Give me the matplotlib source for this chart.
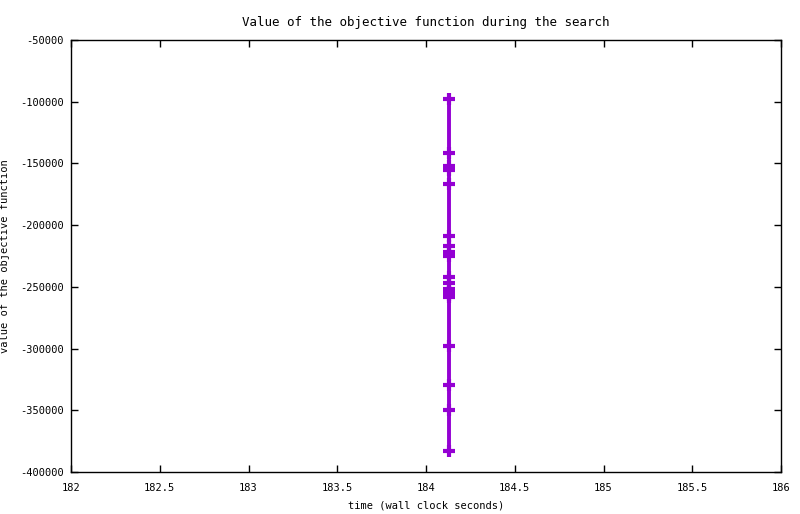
import numpy as np
import matplotlib
matplotlib.use("Agg")
import matplotlib.pyplot as plt

# search progress: wall clock time vs objective value
times = [184.13] * 19
values = [-97600, -141300, -152100, -155300, -166400, -208600, -216700,
          -221800, -225000, -241800, -246600, -251700, -254200, -256600,
          -258600, -297700, -329300, -349500, -382700]

x_ticks = [182, 182.5, 183, 183.5, 184, 184.5, 185, 185.5, 186]
y_ticks = [-50000, -100000, -150000, -200000, -250000, -300000, -350000, -400000]

plt.rcParams["font.family"] = "DejaVu Sans Mono"
plt.rcParams["font.size"] = 7.5

fig = plt.figure(figsize=(8, 5.14), dpi=100)
ax = fig.add_axes([71 / 800, 42 / 514, 710 / 800, 432 / 514])

ax.plot(times, values, color="#9400d3", lw=2.8, marker="+",
        markersize=8, markeredgewidth=3)

ax.set_xlim(182, 186)
ax.set_ylim(-400000, -50000)
ax.set_xticks(x_ticks)
ax.set_xticklabels([("%g" % t) for t in x_ticks])
ax.set_yticks(y_ticks)
ax.set_yticklabels([("%d" % t).replace("\u2212", "-") for t in y_ticks])
ax.tick_params(direction="in", top=True, right=True, length=5, width=1)
ax.tick_params(axis="x", pad=8)
ax.tick_params(axis="y", pad=5)
for s in ax.spines.values():
    s.set_linewidth(1)

ax.set_title("Value of the objective function during the search", pad=10)
ax.set_xlabel("time (wall clock seconds)", labelpad=5)
ax.set_ylabel("value of the objective function")
ax.yaxis.set_label_coords(-0.086, 0.5)

fig.savefig("out.png", dpi=100)
